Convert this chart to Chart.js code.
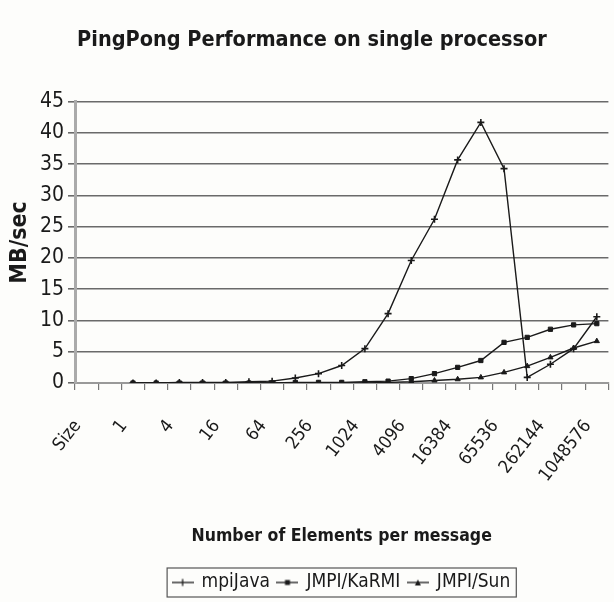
<!DOCTYPE html>
<html>
<head>
<meta charset="utf-8">
<script src="https://cdn.jsdelivr.net/npm/chart.js@4.4.1/dist/chart.umd.min.js"></script>
<style>
  html, body { margin: 0; padding: 0; background: #fdfdfb; }
  canvas { display: block; }
</style>
</head>
<body>
<canvas id="c" width="614" height="602"></canvas>
<script>
// ---- data ----
const categories = ["Size", "", "1", "2", "4", "8", "16", "32", "64", "128", "256", "512",
  "1024", "2048", "4096", "8192", "16384", "32768", "65536", "131072", "262144", "524288", "1048576"];
const seriesNames = ["mpiJava", "JMPI/KaRMI", "JMPI/Sun"];
const mpiJava = [null, null, 0.0, 0.0, 0.1, 0.1, 0.1, 0.2, 0.3, 0.8, 1.5, 2.8,
  5.5, 11.1, 19.6, 26.2, 35.7, 41.7, 34.3, 0.9, 3.0, 5.5, 10.6];
const jmpiKaRMI = [null, null, 0.0, 0.0, 0.0, 0.0, 0.0, 0.0, 0.0, 0.1, 0.1, 0.1,
  0.2, 0.3, 0.7, 1.5, 2.5, 3.6, 6.5, 7.3, 8.6, 9.3, 9.5];
const jmpiSun = [null, null, 0.0, 0.0, 0.0, 0.0, 0.0, 0.0, 0.0, 0.0, 0.0, 0.0,
  0.0, 0.1, 0.2, 0.4, 0.6, 0.9, 1.7, 2.7, 4.1, 5.6, 6.7];
const yTicks = { min: 0, max: 45, step: 5 };
const titleText = "PingPong Performance on single processor";
const xTitle = "Number of Elements per message";
const yTitle = "MB/sec";

const FONT = "'Liberation Sans Narrow', 'DejaVu Sans Condensed', 'Arial Narrow', Arial, sans-serif";
const INK = '#1a1a1a';

function legendIcon(style) {
  const c = document.createElement('canvas');
  c.width = 22; c.height = 10;
  const g = c.getContext('2d');
  g.strokeStyle = INK; g.fillStyle = INK; g.lineWidth = 1.3;
  g.beginPath(); g.moveTo(0, 5); g.lineTo(22, 5); g.stroke();
  if (style === 'cross') {
    g.beginPath(); g.moveTo(11, 1.5); g.lineTo(11, 8.5); g.stroke();
  } else if (style === 'rect') {
    g.fillRect(8.5, 2.5, 5, 5);
  } else {
    g.beginPath(); g.moveTo(11, 2); g.lineTo(14, 8); g.lineTo(8, 8); g.closePath(); g.fill();
  }
  return c;
}
const icons = [legendIcon('cross'), legendIcon('rect'), legendIcon('tri')];

const legendBox = {
  id: 'legendBox',
  afterLayout(chart) {
    const lg = chart.legend;
    if (!lg) return;
    // centre the legend under the plot area rather than the whole canvas
    const shift = (chart.chartArea.left + chart.chartArea.right) / 2 - (lg.left + lg.right) / 2;
    lg.left += shift; lg.right += shift;
  },
  afterDraw(chart) {
    const lg = chart.legend;
    if (!lg || !lg.legendHitBoxes || !lg.legendHitBoxes.length) return;
    const hb = lg.legendHitBoxes;
    let l = Infinity, r = -Infinity, t = Infinity, b = -Infinity;
    hb.forEach(h => { l = Math.min(l, h.left); r = Math.max(r, h.left + h.width);
      t = Math.min(t, h.top); b = Math.max(b, h.top + h.height); });
    const ctx = chart.ctx;
    ctx.save();
    ctx.strokeStyle = '#555'; ctx.lineWidth = 1.2;
    ctx.strokeRect(l - 6, t - 5, r - l + 12, b - t + 10);
    ctx.restore();
  }
};

const common = { borderColor: INK, backgroundColor: INK, borderWidth: 1.4,
  pointRadius: 3, pointBorderWidth: 1, tension: 0, spanGaps: false };

new Chart(document.getElementById('c'), {
  type: 'line',
  data: {
    labels: categories,
    datasets: [
      Object.assign({ label: seriesNames[0], data: mpiJava, pointStyle: 'cross' }, common, { pointBorderWidth: 1.6, pointRadius: 3.5 }),
      Object.assign({ label: seriesNames[1], data: jmpiKaRMI, pointStyle: 'rect' }, common),
      Object.assign({ label: seriesNames[2], data: jmpiSun, pointStyle: 'triangle' }, common)
    ]
  },
  options: {
    responsive: false,
    animation: false,
    devicePixelRatio: 1,
    layout: { padding: { left: 4, right: -6, top: 0, bottom: 0 } },
    plugins: {
      title: { display: true, text: titleText, color: INK,
        font: { family: FONT, size: 21.5, weight: 'bold' }, padding: { top: 28, bottom: 48 } },
      legend: { position: 'bottom',
        labels: { color: INK, font: { family: FONT, size: 19 }, usePointStyle: true,
          padding: 8, boxHeight: 10,
          generateLabels(chart) {
            return chart.data.datasets.map((d, i) => ({ text: d.label, pointStyle: icons[i],
              fontColor: INK, strokeStyle: INK, fillStyle: INK, lineWidth: 0, datasetIndex: i, hidden: false }));
          } } },
      tooltip: { enabled: false }
    },
    scales: {
      x: {
        offset: true,
        grid: { offset: true, drawOnChartArea: false, drawTicks: true, tickLength: 7, color: '#777', lineWidth: 1.2 },
        border: { color: '#999', width: 2 },
        ticks: { autoSkip: false, maxRotation: 52, minRotation: 52, color: INK, padding: 26, labelOffset: -9,
          font: { family: FONT, size: 18 },
          callback: (v, i) => (i % 2 === 0 ? categories[i] : '') },
        title: { display: true, text: xTitle, color: INK, font: { family: FONT, size: 17.5, weight: 'bold' },
          padding: { top: 0, bottom: 18 } },
        afterFit(s) { s.height = 182; s.paddingRight = -6; s.paddingLeft = 0; }
      },
      y: {
        min: yTicks.min, max: yTicks.max,
        ticks: { stepSize: yTicks.step, color: INK, padding: 4, font: { family: FONT, size: 21 } },
        grid: { color: '#6a6a6a', lineWidth: 1.6, drawTicks: true, tickLength: 7 },
        border: { color: '#aaa', width: 3 },
        title: { display: true, text: yTitle, color: INK, font: { family: FONT, size: 23, weight: 'bold' }, padding: { top: 2, bottom: 0 } },
        afterFit(s) { s.width = 71; }
      }
    }
  },
  plugins: [legendBox]
});
</script>
</body>
</html>
